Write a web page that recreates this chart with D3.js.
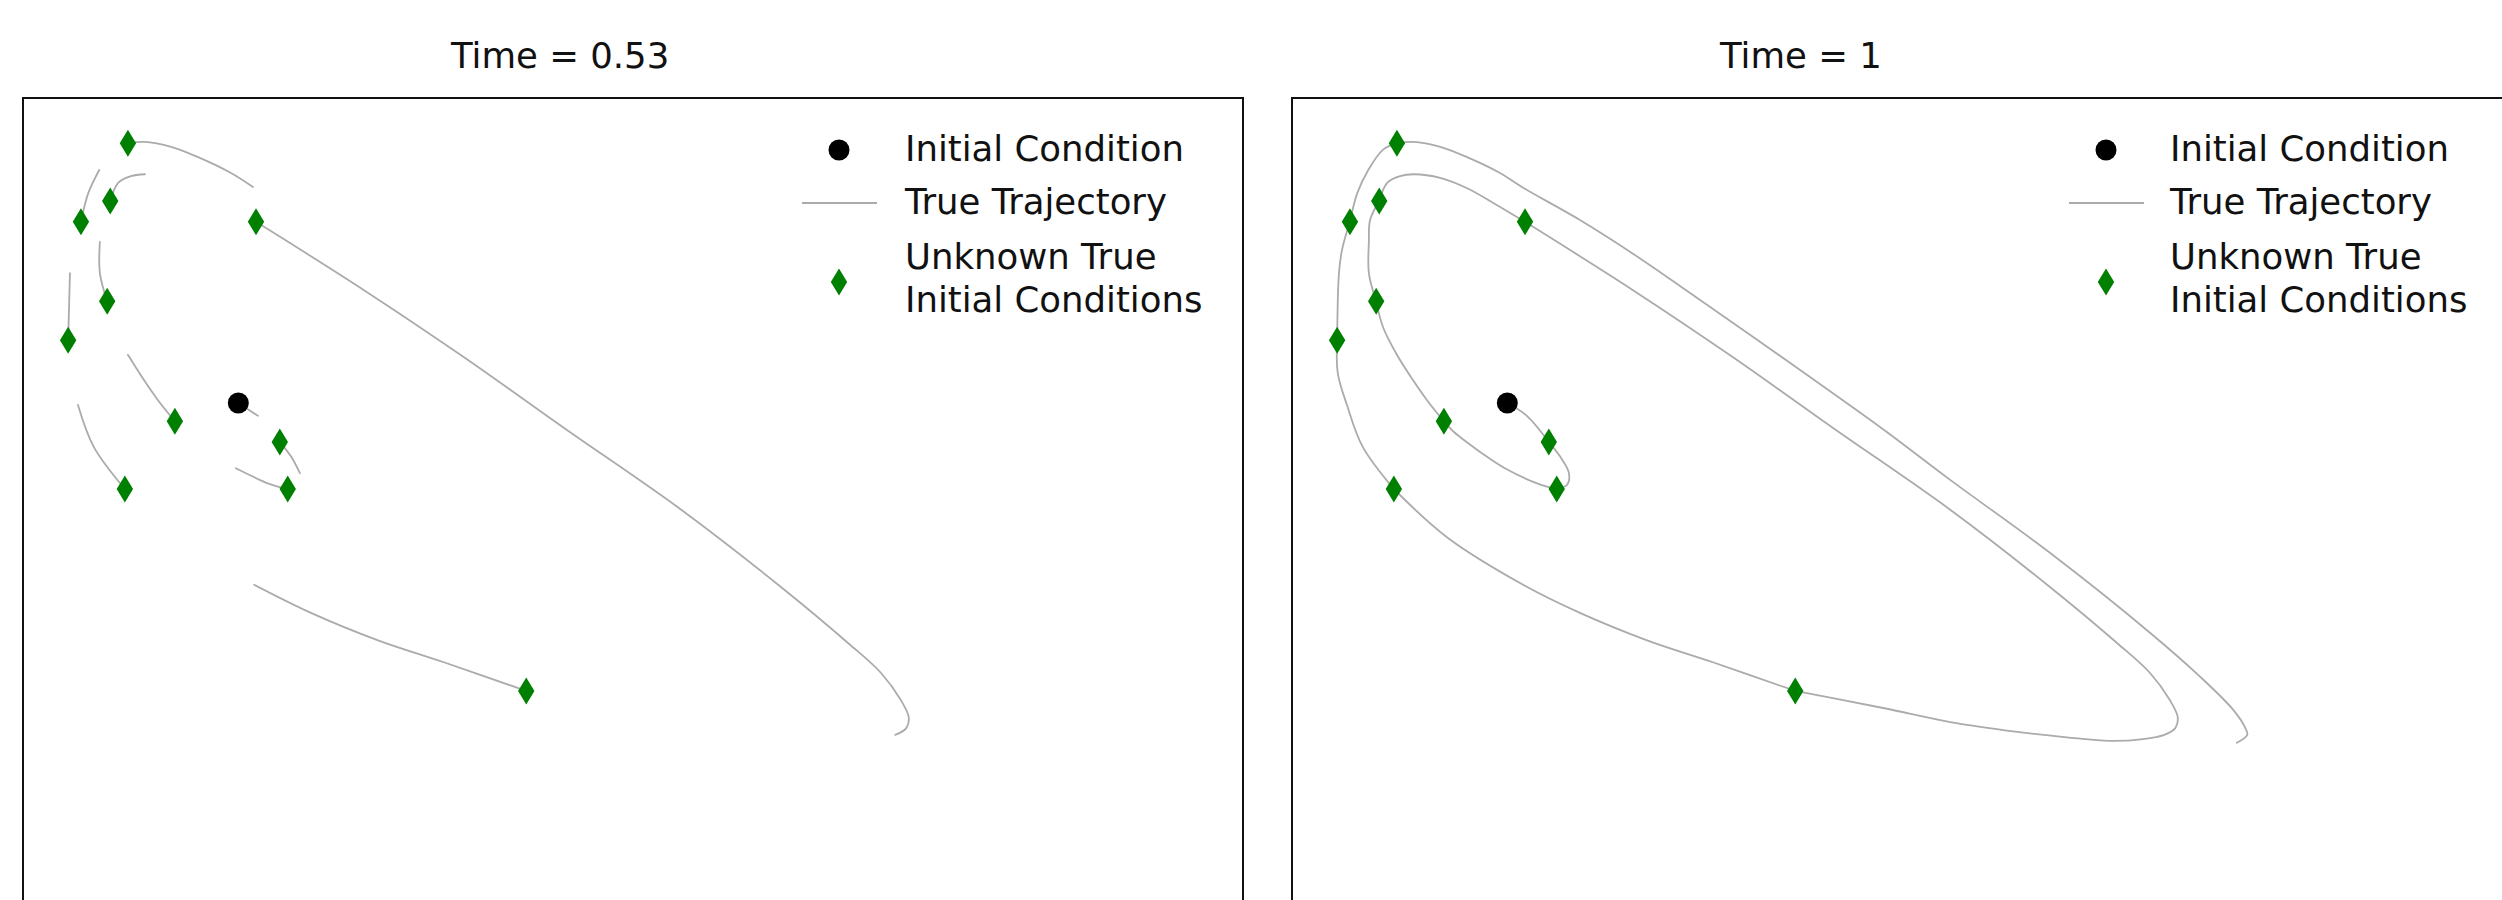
<!DOCTYPE html>
<html>
<head>
<meta charset="utf-8">
<script src="https://cdn.jsdelivr.net/npm/d3@7"></script>
<style>
  html, body { margin: 0; padding: 0; background: #ffffff; }
  svg { display: block; font-family: "DejaVu Sans", sans-serif; }
</style>
</head>
<body>
<svg id="chart" width="2502" height="900"></svg>
<script>
// Snapshot times shown side by side
const snapshotTimes = [0.53, 1];

// True trajectory in phase space (x, y), in travel order
const trajX = [-0.47, -0.15, 0.21, 0.39, 0.54, 0.51, 0.34, 0.05, -0.51, -0.85,
               -1.11, -1.34, -1.51, -1.79, -2.02, -2.28, -2.51, -2.62, -2.74, -2.74,
               -2.72, -2.57, -2.44, -2.23, -2.00, -1.57, -1.13, -0.70, -0.18, 1.59,
                3.23, 4.87, 6.79, 8.43, 9.52, 10.07, 10.39, 10.52, 10.48, 10.30,
                9.95, 9.41, 8.70, 7.89, 6.79, 5.69, 4.25, 2.90, 1.82, 0.72,
               -0.21, -1.46, -2.33, -2.84, -3.10, -3.25, -3.26, -3.23, -3.18, -3.05,
               -2.93, -2.75, -2.51, -2.28, -2.02, -1.57, -1.13, -0.59, -0.23, 0.72,
                1.54, 2.69, 4.33, 5.69, 6.79, 8.43, 10.07, 10.89, 11.43, 11.62,
               11.66, 11.49];
const trajY = [1.00, 0.79, 0.36, 0.13, -0.15, -0.34, -0.41, -0.33, -0.07, 0.15,
               0.34, 0.52, 0.70, 1.05, 1.38, 1.79, 2.25, 2.67, 3.13, 3.64,
               4.00, 4.31, 4.61, 4.72, 4.75, 4.69, 4.52, 4.28, 3.97, 2.85,
               1.75, 0.59, -0.75, -2.02, -2.93, -3.43, -3.87, -4.15, -4.33, -4.44,
               -4.51, -4.54, -4.48, -4.39, -4.23, -4.00, -3.72, -3.25, -2.89, -2.44,
               -1.98, -1.20, -0.41, 0.28, 0.97, 1.49, 2.03, 3.13, 3.51, 3.97,
               4.44, 4.82, 5.15, 5.26, 5.28, 5.20, 5.03, 4.77, 4.54, 4.00,
               3.48, 2.69, 1.54, 0.57, -0.26, -1.46, -2.77, -3.49, -4.03, -4.31,
               -4.44, -4.57];

// Point of the trajectory used as the initial condition
const initialIdx = 0;
// Trajectory points marked as unknown true initial conditions
const unknownIdx = [2, 6, 12, 17, 21, 28, 46, 52, 56, 59, 63];
// Last trajectory point reached from each start, per snapshot time
const reachIdx = [
  [1, 4, 8, 15, 19, 24, 39, 50, 54, 57, 61, 68],
  [2, 6, 12, 17, 21, 28, 46, 52, 56, 59, 63, 81]
];

const legendLabels = [["Initial Condition"], ["True Trajectory"], ["Unknown True", "Initial Conditions"]];

const svg = d3.select("#chart");
svg.append("rect").attr("width", 2502).attr("height", 900).attr("fill", "#ffffff");

const panelW = 1220, panelH = 976;
const panelLeft = [23, 1292], panelTop = 98;

const x = d3.scaleLinear().domain([-4, 16]).range([0, panelW]);
const y = d3.scaleLinear().domain([6, -10]).range([0, panelH]);

const line = d3.line()
  .x(i => x(trajX[i]))
  .y(i => y(trajY[i]))
  .curve(d3.curveCatmullRom.alpha(0.5));

const lineColor = "#ababab", lineWidth = 1.8;
const green = "#008000";
const hw = 8.2, hh = 13.5;
const diamond = `M0,${-hh}L${hw},0L0,${hh}L${-hw},0Z`;
const fontSize = 35.5;

const starts = [initialIdx, ...unknownIdx];

snapshotTimes.forEach((t, p) => {
  const g = svg.append("g").attr("transform", `translate(${panelLeft[p]},${panelTop})`);

  svg.append("text")
    .attr("x", panelLeft[p] + 428)
    .attr("y", 68)
    .attr("font-size", fontSize)
    .attr("fill", "#111")
    .text(`Time = ${t}`);

  const clipId = `clip${p}`;
  g.append("clipPath").attr("id", clipId)
    .append("rect").attr("width", panelW).attr("height", panelH);

  const plot = g.append("g").attr("clip-path", `url(#${clipId})`);

  // trajectory pieces from every start up to the point reached at this time
  plot.selectAll("path.traj")
    .data(starts.map((s, k) => d3.range(s, reachIdx[p][k] + 1)))
    .join("path")
    .attr("class", "traj")
    .attr("d", line)
    .attr("fill", "none")
    .attr("stroke", lineColor)
    .attr("stroke-width", lineWidth)
    .attr("stroke-linecap", "round")
    .attr("stroke-linejoin", "round");

  plot.append("circle")
    .attr("cx", x(trajX[initialIdx]))
    .attr("cy", y(trajY[initialIdx]))
    .attr("r", 10.5)
    .attr("fill", "#000");

  plot.selectAll("path.unknown")
    .data(unknownIdx)
    .join("path")
    .attr("class", "unknown")
    .attr("transform", i => `translate(${x(trajX[i])},${y(trajY[i])})`)
    .attr("d", diamond)
    .attr("fill", green);

  g.append("rect")
    .attr("width", panelW).attr("height", panelH)
    .attr("fill", "none").attr("stroke", "#111").attr("stroke-width", 2);

  // legend
  const lg = g.append("g").attr("transform", `translate(${p === 0 ? 816 : 814},0)`);
  lg.append("circle").attr("cx", 0).attr("cy", 52).attr("r", 10.5).attr("fill", "#000");
  lg.append("line").attr("x1", -37).attr("x2", 38).attr("y1", 105).attr("y2", 105)
    .attr("stroke", lineColor).attr("stroke-width", lineWidth);
  lg.append("path").attr("transform", "translate(0,184)").attr("d", diamond).attr("fill", green);

  const rows = [[63], [115.5], [170.5, 214]];
  legendLabels.forEach((lines, j) => {
    lines.forEach((txt, m) => {
      lg.append("text")
        .attr("x", p === 0 ? 66 : 64)
        .attr("y", rows[j][m])
        .attr("font-size", fontSize)
        .attr("fill", "#111")
        .text(txt);
    });
  });
});
</script>
</body>
</html>
